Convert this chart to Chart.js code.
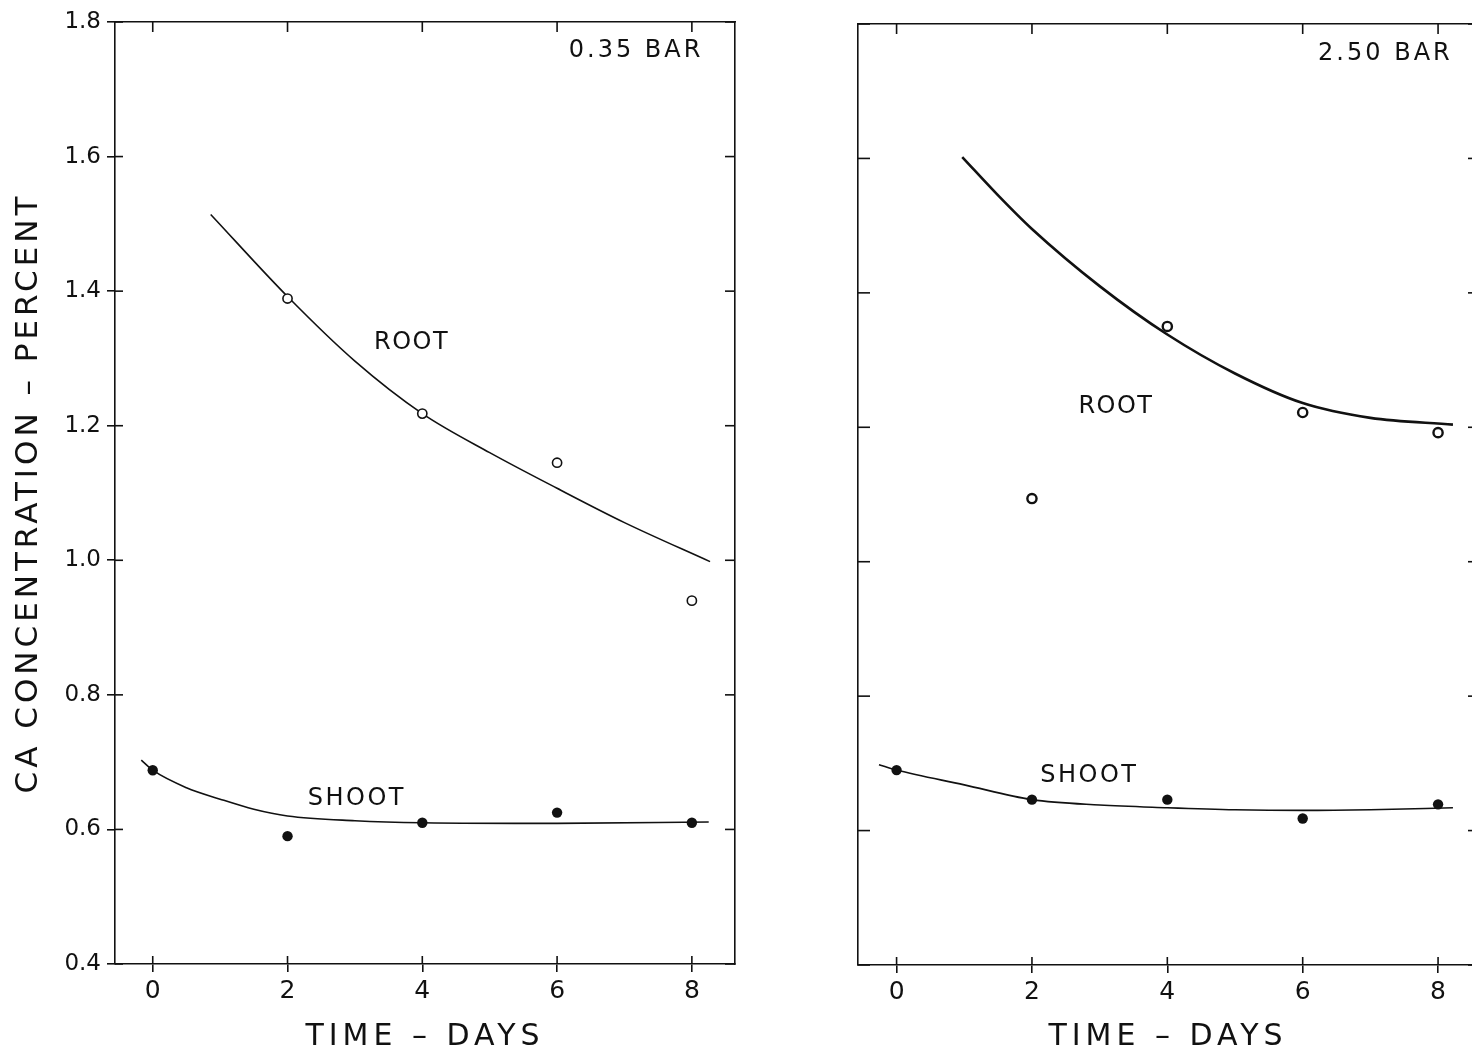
<!DOCTYPE html>
<html>
<head>
<meta charset="utf-8">
<script src="https://cdn.jsdelivr.net/npm/chart.js@4.4.1/dist/chart.umd.min.js"></script>
<style>
  html, body { margin: 0; padding: 0; background: #fff; overflow: hidden; width: 1472px; height: 1055px; }
  .panel { position: absolute; top: 0; }
  #p1 { left: 0; width: 760px; height: 1055px; }
  #p2 { left: 800px; width: 700px; height: 1055px; }
</style>
</head>
<body>
<div class="panel" id="p1"><canvas id="c1" width="760" height="1055"></canvas></div>
<div class="panel" id="p2"><canvas id="c2" width="700" height="1055"></canvas></div>
<script>
// ---------- data ----------
const xTicks = [0, 2, 4, 6, 8];
const yTicks = [0.4, 0.6, 0.8, 1.0, 1.2, 1.4, 1.6, 1.8];

const rootDays = [2, 4, 6, 8];
const root035 = [1.389, 1.218, 1.145, 0.940];
const root250 = [1.094, 1.350, 1.222, 1.192];

const shootDays = [0, 2, 4, 6, 8];
const shoot035 = [0.688, 0.590, 0.610, 0.625, 0.610];
const shoot250 = [0.690, 0.646, 0.646, 0.618, 0.639];

// hand-drawn fitted curves
const rootFitDays035 = [0.86, 2, 3, 4, 5, 6, 7, 8.27];
const rootFit035 = [1.514, 1.392, 1.296, 1.218, 1.160, 1.107, 1.056, 0.998];
const shootFitDays035 = [-0.17, 0, 0.5, 1, 1.5, 2, 3, 4, 6, 8.25];
const shootFit035 = [0.703, 0.688, 0.662, 0.645, 0.630, 0.620, 0.613, 0.610, 0.609, 0.611];

const rootFitDays250 = [0.97, 1.5, 2, 3, 4, 5, 6, 7, 8.22];
const rootFit250 = [1.602, 1.545, 1.495, 1.410, 1.338, 1.280, 1.236, 1.214, 1.204];
const shootFitDays250 = [-0.26, 0, 1, 2, 3, 4, 5, 6, 7, 8.22];
const shootFit250 = [0.698, 0.690, 0.668, 0.646, 0.638, 0.634, 0.631, 0.630, 0.631, 0.634];

const panelTitles = ['0.35 BAR', '2.50 BAR'];
const yTitle = 'CA CONCENTRATION \u2013 PERCENT';
const xTitle = 'TIME \u2013 DAYS';

// ---------- helpers ----------
const pts = (xs, ys) => xs.map((x, i) => ({ x: x, y: ys[i] }));
const FONT = '"DejaVu Sans", "Liberation Sans", sans-serif';
const INK = '#111';

const innerTicksPlugin = {
  id: 'innerTicks',
  afterDraw(chart, args, opts) {
    const ctx = chart.ctx, a = chart.chartArea;
    ctx.save();
    ctx.strokeStyle = INK;
    ctx.lineWidth = 1.6;
    Object.keys(opts.lengths || {}).forEach(id => {
      const s = chart.scales[id];
      const len = opts.lengths[id];
      if (!s || !len) return;
      s.ticks.forEach(t => {
        const p = s.getPixelForValue(t.value);
        ctx.beginPath();
        if (s.position === 'bottom') { ctx.moveTo(p, a.bottom); ctx.lineTo(p, a.bottom - len); }
        else if (s.position === 'top') { ctx.moveTo(p, a.top); ctx.lineTo(p, a.top + len); }
        else if (s.position === 'left') { ctx.moveTo(a.left, p); ctx.lineTo(a.left + len, p); }
        else { ctx.moveTo(a.right, p); ctx.lineTo(a.right - len, p); }
        ctx.stroke();
      });
    });
    ctx.restore();
  }
};

const notesPlugin = {
  id: 'notes',
  afterDatasetsDraw(chart, args, opts) {
    const ctx = chart.ctx, sx = chart.scales.x, sy = chart.scales.y;
    ctx.save();
    ctx.fillStyle = INK;
    ctx.textAlign = 'center';
    ctx.textBaseline = 'middle';
    (opts.items || []).forEach(n => {
      ctx.font = n.size + 'px ' + FONT;
      ctx.letterSpacing = n.spacing + 'px';
      ctx.fillText(n.text, sx.getPixelForValue(n.x) + n.spacing / 2, sy.getPixelForValue(n.y));
    });
    ctx.restore();
  }
};

const spacedTitlePlugin = {
  id: 'spacedTitle',
  beforeDraw(chart) {
    Object.values(chart.scales).forEach(s => {
      if (s._spacedPatched) return;
      const orig = s.drawTitle;
      s.drawTitle = function () {
        const c = this.ctx;
        const prev = c.letterSpacing;
        c.letterSpacing = this.isHorizontal() ? '5px' : '4px';
        orig.apply(this, arguments);
        c.letterSpacing = prev;
      };
      s._spacedPatched = true;
    });
  }
};

function setTicks(list) {
  return function (scale) { scale.ticks = list.map(v => ({ value: v })); };
}

function makeChart(canvasId, cfg) {
  const datasets = [
    { type: 'line', data: pts(cfg.rootFitDays, cfg.rootFit), borderColor: INK, borderWidth: cfg.rootLineWidth,
      pointRadius: 0, cubicInterpolationMode: 'monotone', fill: false, order: 3 },
    { type: 'line', data: pts(cfg.shootFitDays, cfg.shootFit), borderColor: INK, borderWidth: 1.6,
      pointRadius: 0, cubicInterpolationMode: 'monotone', fill: false, order: 3 },
    { type: 'scatter', data: pts(rootDays, cfg.root), showLine: false, pointRadius: 4.6,
      pointBorderWidth: cfg.circleWidth, pointBorderColor: INK, pointBackgroundColor: '#fff', order: 1 },
    { type: 'scatter', data: pts(shootDays, cfg.shoot), showLine: false, pointRadius: 5.2,
      pointBorderWidth: 0, pointBorderColor: INK, pointBackgroundColor: INK, order: 1 }
  ];
  const axisBorder = { display: true, color: INK, width: 1.6 };
  return new Chart(document.getElementById(canvasId), {
    data: { datasets },
    plugins: [innerTicksPlugin, notesPlugin, spacedTitlePlugin],
    options: {
      responsive: false,
      devicePixelRatio: 1,
      animation: false,
      events: [],
      layout: { padding: cfg.padding },
      plugins: {
        legend: { display: false },
        tooltip: { enabled: false },
        innerTicks: { lengths: cfg.inner },
        notes: { items: cfg.notes }
      },
      scales: {
        x: {
          type: 'linear', position: 'bottom', min: cfg.xMin, max: cfg.xMax,
          afterBuildTicks: setTicks(xTicks),
          afterFit: s => { s.height = cfg.xHeight; },
          border: axisBorder,
          grid: { drawOnChartArea: false, drawTicks: true, tickLength: 8, color: INK, lineWidth: 1.6 },
          ticks: { color: INK, padding: 4, font: { family: FONT, size: 25 }, callback: v => String(v) },
          title: { display: true, text: xTitle, color: INK, font: { family: FONT, size: 30 }, padding: 0 }
        },
        x2: {
          type: 'linear', position: 'top', min: cfg.xMin, max: cfg.xMax,
          afterBuildTicks: setTicks(xTicks),
          afterFit: s => { s.height = 0; },
          border: axisBorder,
          grid: { display: false },
          ticks: { display: false }
        },
        y: {
          type: 'linear', position: 'left', min: 0.4, max: 1.8,
          afterBuildTicks: setTicks(yTicks),
          afterFit: s => { s.width = cfg.yWidth; },
          border: axisBorder,
          grid: { drawOnChartArea: false, drawTicks: cfg.yOuter > 0, tickLength: cfg.yOuter, color: INK, lineWidth: 1.6 },
          ticks: { display: cfg.yLabels, color: INK, padding: 6, font: { family: FONT, size: 23 },
                   callback: v => Number(v).toFixed(1) },
          title: { display: cfg.yLabels, text: yTitle, color: INK, font: { family: FONT, size: 31 },
                   padding: { top: 10, bottom: 0 } }
        },
        y2: {
          type: 'linear', position: 'right', min: 0.4, max: 1.8,
          afterBuildTicks: setTicks(yTicks),
          afterFit: s => { s.width = 0; },
          border: axisBorder,
          grid: { display: false },
          ticks: { display: false }
        }
      }
    }
  });
}

makeChart('c1', {
  root: root035, shoot: shoot035,
  rootFitDays: rootFitDays035, rootFit: rootFit035,
  shootFitDays: shootFitDays035, shootFit: shootFit035,
  rootLineWidth: 1.6, circleWidth: 1.6,
  xMin: -0.56, xMax: 8.64,
  padding: { left: 0, right: 25, top: 22, bottom: 0 },
  xHeight: 91, yWidth: 115, yOuter: 8, yLabels: true,
  inner: { x: 8, x2: 10, y: 8, y2: 10 },
  notes: [
    { text: panelTitles[0], x: 7.15, y: 1.757, size: 24, spacing: 3 },
    { text: 'ROOT', x: 3.83, y: 1.323, size: 24, spacing: 1.5 },
    { text: 'SHOOT', x: 3.01, y: 0.645, size: 24, spacing: 2.5 }
  ]
});

makeChart('c2', {
  root: root250, shoot: shoot250,
  rootFitDays: rootFitDays250, rootFit: rootFit250,
  shootFitDays: shootFitDays250, shootFit: shootFit250,
  rootLineWidth: 2.6, circleWidth: 2.4,
  xMin: -0.57, xMax: 8.59,
  padding: { left: 0, right: 22, top: 24, bottom: 0 },
  xHeight: 90, yWidth: 58, yOuter: 0, yLabels: false,
  inner: { x: 8, x2: 10, y: 12, y2: 10 },
  notes: [
    { text: panelTitles[1], x: 7.2, y: 1.755, size: 24, spacing: 3 },
    { text: 'ROOT', x: 3.23, y: 1.230, size: 24, spacing: 1.5 },
    { text: 'SHOOT', x: 2.83, y: 0.681, size: 24, spacing: 2.5 }
  ]
});
</script>
</body>
</html>
